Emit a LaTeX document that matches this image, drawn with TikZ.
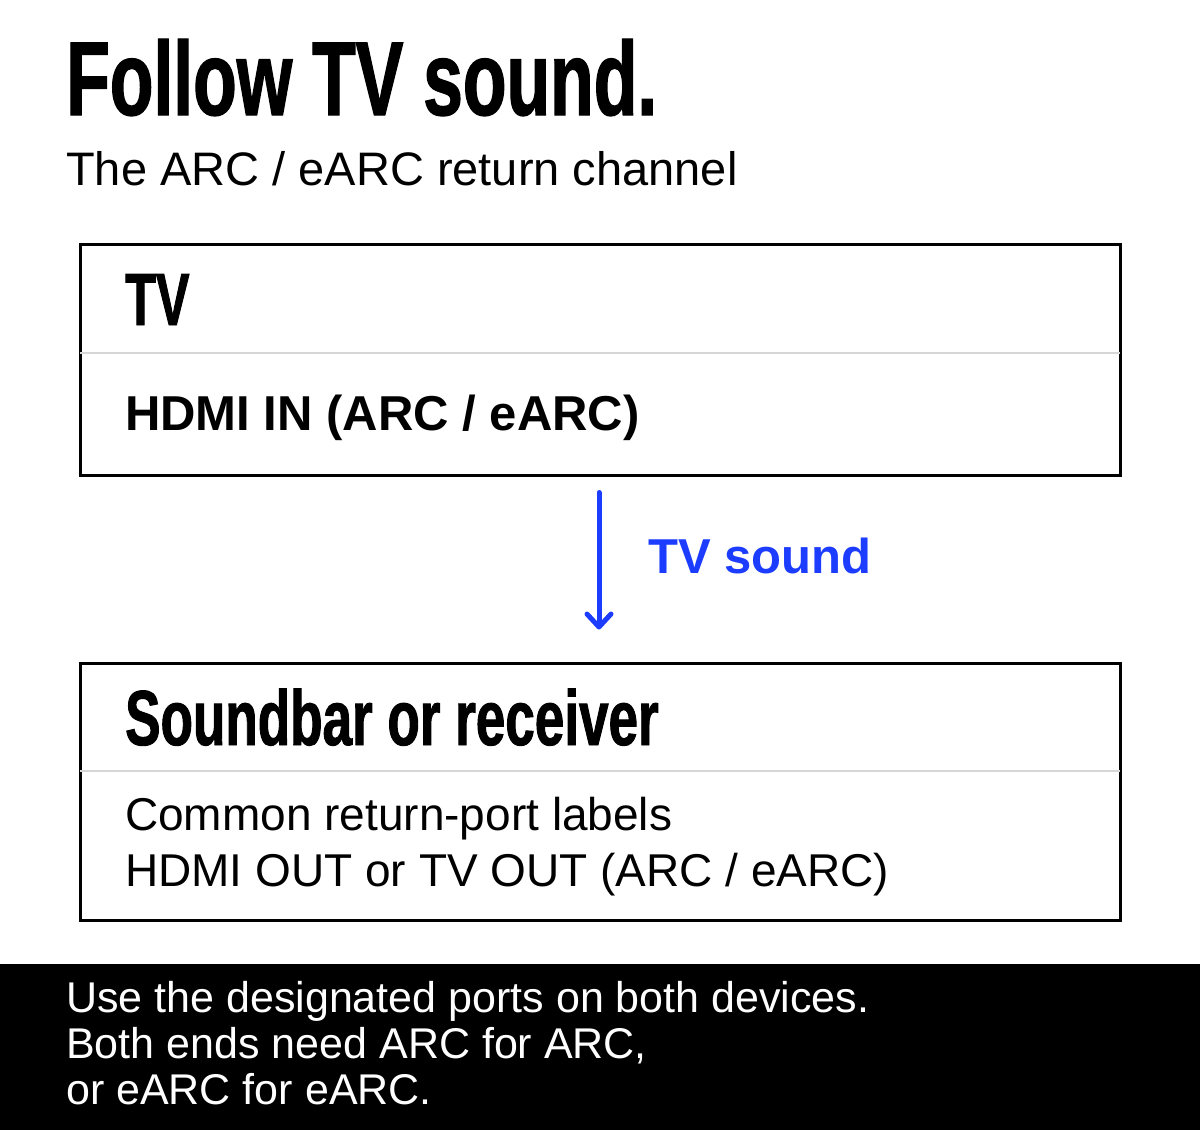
\documentclass[tikz,border=0pt]{standalone}
\usepackage{fontspec}
\setmainfont{Liberation Sans}
\newfontfamily\condfont[FakeStretch=0.68,FakeBold=1.2]{Liberation Sans}
\usepackage{xcolor}
\usetikzlibrary{arrows.meta,positioning}
\definecolor{soundblue}{RGB}{28,60,255}
\definecolor{rulegray}{RGB}{214,214,214}

\begin{document}
\begin{tikzpicture}[x=1pt,y=-1pt]
\tikzset{
    headline/.style={
       anchor = base west,
       inner sep = 0pt,
       font = \condfont\bfseries
    },
    plain text/.style={
       anchor = base west,
       inner sep = 0pt,
       align = left
    },
    device box/.style={
       draw,
       line width = 3pt,
       minimum width = 1040pt
    },
    divider/.style={
       rulegray,
       line width = 2pt
    }
}
%
\useasboundingbox (0,0) rectangle (1200,1130);
\node[headline, font=\condfont\bfseries\fontsize{105}{110}\selectfont] (title) at (66,115) {Follow TV sound.};
\node[plain text, font=\fontsize{47}{56}\selectfont] (subtitle) at (66,185) {The ARC / eARC return channel};

% TV
\node[device box, minimum height=231pt] (tv) at (600,359.5) {};
\draw[divider] ([xshift=1.5pt]tv.west |- 0,353) -- ([xshift=-1.5pt]tv.east |- 0,353);
\node[headline, font=\condfont\bfseries\fontsize{74}{80}\selectfont] (tvname) at (125,325) {TV};
\node[plain text, font=\bfseries\fontsize{49}{56}\selectfont] (tvport) at (125,430) {HDMI IN (ARC / eARC)};

% soundbar (base of a multi-line node = its last line)
\node[device box, minimum height=257pt] (sb) at (600,791.5) {};
\draw[divider] ([xshift=1.5pt]sb.west |- 0,771) -- ([xshift=-1.5pt]sb.east |- 0,771);
\node[headline, font=\condfont\bfseries\fontsize{78}{84}\selectfont] (sbname) at (125,745) {Soundbar or receiver};
\node[plain text, font=\fontsize{46}{56}\selectfont] (sbport) at (125,886) {Common return-port labels\\HDMI OUT or TV OUT (ARC / eARC)};

\draw[soundblue, line width=5pt, line cap=round, -{Straight Barb[round,length=13pt,width=24pt]}]
   ([xshift=-1pt,yshift=-16pt]tv.south) -- ([xshift=-1pt,yshift=32pt]sb.north);
\node[plain text, text=soundblue, font=\bfseries\fontsize{49}{56}\selectfont] (flow) at (648,573) {TV sound};

% footer
\fill[black] (0,964) rectangle (1200,1130);
\node[plain text, text=white, font=\fontsize{43}{46}\selectfont] (note) at (66,1104) {Use the designated ports on both devices.\\Both ends need ARC for ARC,\\or eARC for eARC.};
\end{tikzpicture}
\end{document}
